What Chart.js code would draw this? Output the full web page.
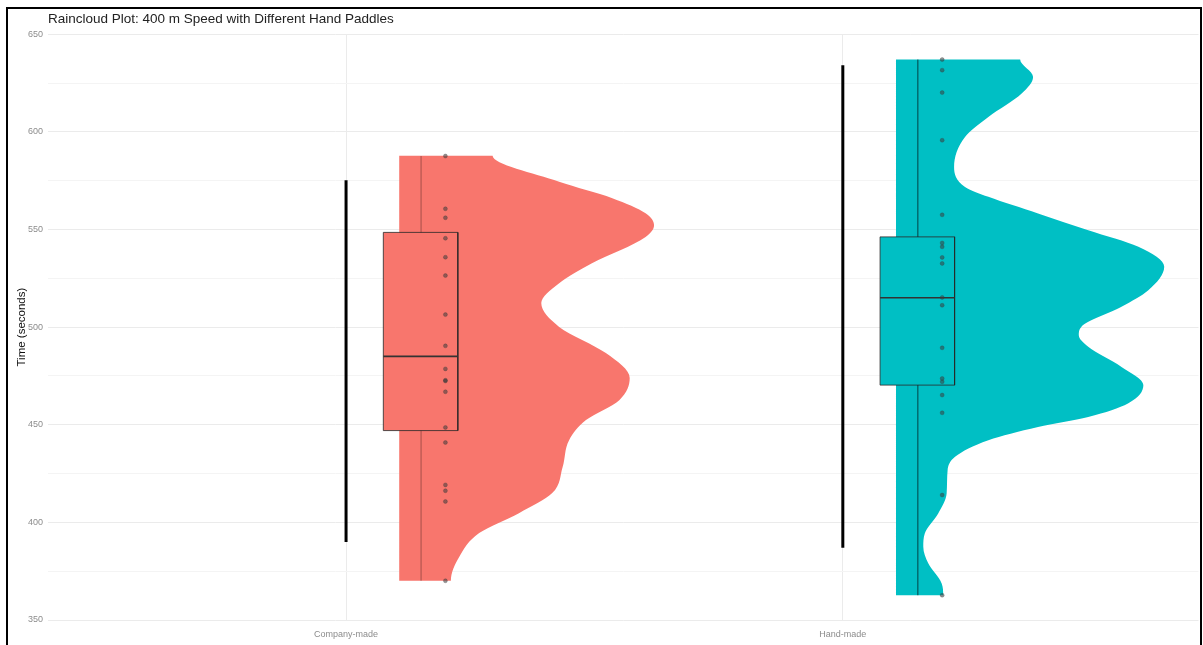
<!DOCTYPE html>
<html>
<head>
<meta charset="utf-8">
<script src="https://cdn.jsdelivr.net/npm/chart.js@4.4.1/dist/chart.umd.min.js"></script>
<style>
  html, body { margin: 0; padding: 0; background: #fff; }
  #wrap { position: relative; width: 1203px; height: 645px; }
  #frame { position: absolute; left: 6px; top: 7px; right: 1px; bottom: -2px; border: 2px solid #000; border-bottom: none; pointer-events: none; }
</style>
</head>
<body>
<div id="wrap"><canvas id="chart"></canvas><div id="frame"></div></div>
<script>
const categories = ['Company-made', 'Hand-made']

// individual 400 m times (seconds)
const companyTimes = [587.6, 560.6, 556.0, 545.5, 535.8, 526.4, 506.4, 490.4, 478.6, 472.8, 472.4, 466.9, 448.6, 440.9, 419.2, 416.2, 410.7, 370.1]
const handTimes = [637.0, 631.6, 620.1, 595.7, 557.5, 543.1, 541.1, 535.7, 532.6, 515.2, 511.2, 489.4, 473.7, 472.0, 465.2, 456.1, 414.0, 362.7]

// boxplot stats
const boxQ1 = [447.0, 470.3]
const boxMedian = [485.0, 515.0]
const boxQ3 = [548.5, 546.2]

// black range bars
const rangeLow = [390.0, 387.0]
const rangeHigh = [575.2, 634.1]

// half-violin outline: time and width (category units)
const companyViolinY = [587.7, 574.4, 566.0, 558.3, 552.2, 546.2, 532.7, 522.5, 512.3, 500.1, 486.7, 473.9, 462.6, 452.4, 442.1, 428.4, 415.0, 404.7, 394.5, 382.4, 370.1]
const companyViolinW = [0.188, 0.322, 0.429, 0.496, 0.513, 0.496, 0.388, 0.322, 0.286, 0.322, 0.416, 0.464, 0.443, 0.376, 0.342, 0.329, 0.308, 0.241, 0.161, 0.121, 0.104]
const handViolinY = [637.0, 628.1, 619.6, 607.6, 597.4, 582.0, 571.8, 566.7, 558.2, 549.6, 541.1, 530.9, 518.9, 510.4, 500.1, 495.9, 489.9, 479.6, 470.3, 460.9, 454.0, 448.9, 442.1, 433.6, 426.8, 414.8, 404.6, 394.3, 387.5, 379.0, 368.7, 362.7]
const handViolinW = [0.250, 0.276, 0.253, 0.186, 0.139, 0.117, 0.139, 0.186, 0.286, 0.387, 0.488, 0.540, 0.508, 0.454, 0.373, 0.368, 0.387, 0.454, 0.498, 0.467, 0.387, 0.286, 0.186, 0.119, 0.104, 0.102, 0.085, 0.058, 0.055, 0.065, 0.092, 0.095]

const yTickValues = [350, 400, 450, 500, 550, 600, 650]

const fills = ['#F8766D', '#00BFC4']
const whiskerColors = ['rgba(0,0,0,0.28)', 'rgba(0,0,0,0.55)']

function groupDatasets(i, times, violinY, violinW) {
  const c = i + 1
  const edge = c + 0.107
  const boxL = c + 0.075
  const boxR = c + 0.225
  const line = { type: 'line', showLine: true, pointRadius: 0, fill: false, tension: 0 }
  return [
    {
      ...line,
      order: 5,
      indexAxis: 'y',
      data: [{ x: edge, y: violinY[0] }, ...violinY.map((y, k) => ({ x: edge + violinW[k], y })), { x: edge, y: violinY[violinY.length - 1] }],
      backgroundColor: fills[i],
      borderWidth: 0,
      borderColor: 'rgba(0,0,0,0)',
      fill: 'shape',
      cubicInterpolationMode: 'monotone',
    },
    {
      ...line,
      order: 4,
      data: [{ x: c, y: rangeLow[i] }, { x: c, y: rangeHigh[i] }],
      borderColor: '#000',
      borderWidth: 3,
    },
    {
      ...line,
      order: 3,
      data: [{ x: c + 0.151, y: Math.min(...times) }, { x: c + 0.151, y: Math.max(...times) }],
      borderColor: whiskerColors[i],
      borderWidth: 1.2,
    },
    {
      ...line,
      order: 2,
      data: [{ x: boxL, y: boxQ1[i] }, { x: boxL, y: boxQ3[i] }, { x: boxR, y: boxQ3[i] }, { x: boxR, y: boxQ1[i] }, { x: boxL, y: boxQ1[i] }],
      backgroundColor: fills[i],
      borderColor: 'rgba(40,40,40,0.8)',
      borderWidth: 1,
      fill: 'shape',
    },
    {
      ...line,
      order: 1,
      data: [{ x: boxL, y: boxMedian[i] }, { x: boxR, y: boxMedian[i] }],
      borderColor: '#333',
      borderWidth: 1.6,
    },
    {
      type: 'scatter',
      order: 0,
      data: times.map(t => ({ x: c + 0.2, y: t })),
      pointRadius: 2,
      pointBackgroundColor: 'rgba(60,60,60,0.55)',
      pointBorderColor: 'rgba(60,60,60,0.55)',
      pointBorderWidth: 0.5,
    },
  ]
}

const gridMajor = '#ebebeb'
const gridMinor = '#f4f4f4'
const tickFont = { size: 9, family: 'Liberation Sans' }

new Chart(document.getElementById('chart'), {
  type: 'line',
  data: {
    datasets: [
      ...groupDatasets(0, companyTimes, companyViolinY, companyViolinW),
      ...groupDatasets(1, handTimes, handViolinY, handViolinW),
    ]
  },
  options: {
    responsive: true,
    maintainAspectRatio: false,
    animation: false,
    layout: { padding: { left: 8, right: 3, top: 0, bottom: 0 } },
    plugins: {
      legend: { display: false },
      tooltip: { enabled: false },
      title: {
        display: true,
        text: 'Raincloud Plot: 400 m Speed with Different Hand Paddles',
        align: 'start',
        fullSize: false,
        color: '#222',
        font: { size: 13.5, family: 'Liberation Sans', weight: 'normal' },
        padding: { top: 11, bottom: 7 },
      },
    },
    scales: {
      x: {
        type: 'linear',
        min: 0.4,
        max: 2.716,
        afterBuildTicks: s => { s.ticks = categories.map((_, i) => ({ value: i + 1 })) },
        afterFit: s => { s.height = 25 },
        ticks: {
          autoSkip: false,
          maxRotation: 0,
          padding: 9,
          font: tickFont,
          color: '#8c8c8c',
          callback: v => categories[v - 1],
        },
        grid: { color: gridMajor, drawTicks: false },
        border: { display: false },
      },
      y: {
        min: 350,
        max: 650,
        afterFit: s => { s.width = 40 },
        ticks: {
          stepSize: 25,
          autoSkip: false,
          padding: 5,
          font: tickFont,
          color: '#8c8c8c',
          callback: v => (yTickValues.includes(v) ? v : ''),
        },
        grid: {
          drawTicks: false,
          color: ctx => (yTickValues.includes(ctx.tick.value) ? gridMajor : gridMinor),
        },
        border: { display: false },
        title: {
          display: true,
          text: 'Time (seconds)',
          color: '#111',
          font: { size: 11.5, family: 'Liberation Sans' },
          padding: { top: 7, bottom: 0 },
        },
      },
    },
  },
})
</script>
</body>
</html>
